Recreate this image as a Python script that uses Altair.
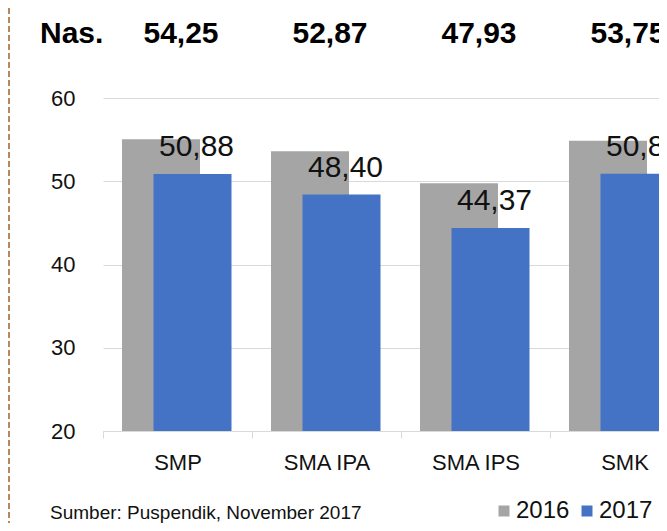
import altair as alt
import pandas as pd

categories = ["SMP", "SMA IPA", "SMA IPS", "SMK"]
nas = [54.25, 52.87, 47.93, 53.75]
v2016 = [55.05, 53.60, 49.75, 54.85]
v2017 = [50.88, 48.40, 44.37, 50.89]
years = ["2016", "2017"]
source_text = "Sumber: Puspendik, November 2017"
nas_title = "Nas."

FONT = "Liberation Sans"
GRAY = "#A5A5A5"
BLUE = "#4472C4"
GRID = "#D9D9D9"


def fmt(v):
    return f"{v:.2f}".replace(".", ",")


rows = []
for c, a, b in zip(categories, v2016, v2017):
    rows.append({"category": c, "year": "2016", "value": a, "label": fmt(a)})
    rows.append({"category": c, "year": "2017", "value": b, "label": fmt(b)})
long_df = pd.DataFrame(rows)
nas_df = pd.DataFrame({"category": categories, "nas": [fmt(v) for v in nas]})

x_scale = alt.Scale(paddingInner=0, paddingOuter=0, range=[0, 596])

x_enc = alt.X(
    "category:N",
    sort=categories,
    scale=x_scale,
    axis=alt.Axis(
        title=None,
        labelAngle=0,
        labelFont=FONT,
        labelFontSize=22,
        labelColor="#111111",
        labelPadding=14,
        domainColor=GRID,
        domainWidth=1,
        tickColor=GRID,
        tickSize=7,
        tickBand="extent",
        grid=False,
    ),
)
y_enc = alt.Y(
    "value:Q",
    scale=alt.Scale(domain=[20, 60], nice=False, zero=False),
    axis=alt.Axis(
        title=None,
        values=[20, 30, 40, 50, 60],
        grid=True,
        gridColor=GRID,
        gridWidth=1,
        domain=False,
        ticks=False,
        labelFont=FONT,
        labelFontSize=22,
        labelColor="#111111",
        labelPadding=28,
    ),
)
color_enc = alt.Color(
    "year:N",
    scale=alt.Scale(domain=years, range=[GRAY, BLUE]),
    legend=alt.Legend(
        title=None,
        orient="none",
        direction="horizontal",
        legendX=389,
        legendY=401,
        symbolType="square",
        symbolSize=121,
        symbolStrokeWidth=0,
        symbolOffset=0,
        labelFont=FONT,
        labelFontSize=24,
        labelColor="#111111",
        labelOffset=0,
        columnPadding=5,
        padding=0,
    ),
)

base = alt.Chart(long_df)

bars2016 = base.transform_filter(alt.datum.year == "2016").mark_bar(
    size=78, xOffset=-16.5
).encode(x=x_enc, y=y_enc, y2=alt.datum(20), color=color_enc)

bars2017 = base.transform_filter(alt.datum.year == "2017").mark_bar(
    size=78, xOffset=15
).encode(x=x_enc, y=y_enc, y2=alt.datum(20), color=color_enc)

labels2017 = base.transform_filter(alt.datum.year == "2017").mark_text(
    font=FONT, fontSize=30, color="#111111", baseline="alphabetic", dx=19, dy=-18
).encode(x=alt.X("category:N", sort=categories, scale=x_scale), y="value:Q", text="label:N")

top_row = alt.Chart(nas_df).mark_text(
    font=FONT, fontSize=30, fontWeight="bold", color="#000000",
    baseline="alphabetic", dx=3.5
).encode(x=alt.X("category:N", sort=categories, scale=x_scale), y=alt.value(-55), text="nas:N")

nas_label = alt.Chart(pd.DataFrame({"t": [nas_title]})).mark_text(
    font=FONT, fontSize=30, fontWeight="bold", color="#000000",
    baseline="alphabetic", align="left"
).encode(x=alt.value(-63), y=alt.value(-55), text="t:N")

source = alt.Chart(pd.DataFrame({"t": [source_text]})).mark_text(
    font=FONT, fontSize=19, color="#111111", baseline="alphabetic", align="left"
).encode(x=alt.value(-53), y=alt.value(421), text="t:N")

border = alt.Chart(pd.DataFrame({"t": [0]})).mark_rule(
    color="#A0602A", strokeWidth=1.5, strokeDash=[6, 3]
).encode(x=alt.value(-94), y=alt.value(-90), y2=alt.value(425))

chart = alt.layer(
    bars2016, bars2017, labels2017, top_row, nas_label, source, border
).properties(
    width=556,
    height=333,
    autosize=alt.AutoSizeParams(type="none"),
    padding={"left": 95, "top": 90, "right": 0, "bottom": 92},
).configure_view(stroke=None)

chart.save("out.html", embed_options={"renderer": "svg", "actions": False})
